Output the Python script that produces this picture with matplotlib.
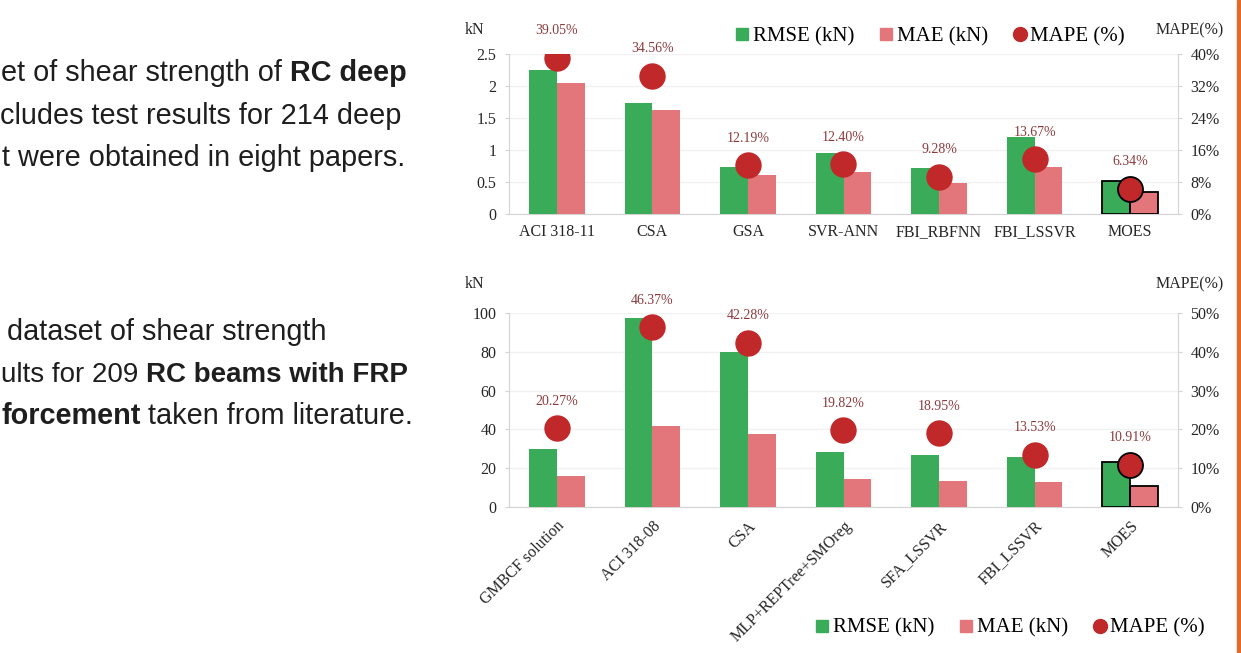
import numpy as np
import matplotlib.pyplot as plt
from matplotlib.lines import Line2D
from matplotlib.patches import Rectangle

W, H = 1241, 653

# top panel: RC deep beams
top_models = ["ACI 318-11", "CSA", "GSA", "SVR-ANN", "FBI_RBFNN", "FBI_LSSVR", "MOES"]
top_rmse = [2.25, 1.74, 0.74, 0.95, 0.72, 1.21, 0.51]
top_mae = [2.04, 1.62, 0.61, 0.66, 0.48, 0.74, 0.34]
top_mape = [39.05, 34.56, 12.19, 12.40, 9.28, 13.67, 6.34]

# bottom panel: RC beams with FRP
bot_models = ["GMBCF solution", "ACI 318-08", "CSA", "MLP+REPTree+SMOreg",
              "SFA_LSSVR", "FBI_LSSVR", "MOES"]
bot_rmse = [30.0, 97.4, 79.7, 28.1, 27.0, 25.6, 23.2]
bot_mae = [16.1, 41.5, 37.6, 14.6, 13.6, 12.7, 10.6]
bot_mape = [20.27, 46.37, 42.28, 19.82, 18.95, 13.53, 10.91]

GREEN = "#3aab58"
PINK = "#e2767a"
RED = "#c0282a"
LABEL_RED = "#8c3a3c"
AXIS_GRAY = "#d4d4d4"
SERIF = "Liberation Serif"
SANS = "Liberation Sans"

plt.rcParams["font.family"] = SERIF


def px_rect(left, top, right, bottom):
    return [left / W, 1 - bottom / H, (right - left) / W, (bottom - top) / H]


def draw_panel(fig, rect, models, rmse, mae, mape, ymax, ystep, pmax, pstep, rotate):
    ax = fig.add_axes(rect)
    ax2 = ax.twinx()
    x = np.arange(len(models))
    w = 0.29
    last = len(models) - 1
    ec = ["none"] * last + ["black"]
    ax.bar(x - w / 2, rmse, w, color=GREEN, edgecolor=ec, linewidth=1.3, zorder=3)
    ax.bar(x + w / 2, mae, w, color=PINK, edgecolor=ec, linewidth=1.3, zorder=3)

    ax.set_xlim(-0.5, len(models) - 0.5)
    ax.set_ylim(0, ymax)
    ax.set_yticks(np.arange(0, ymax + ystep / 2, ystep))
    ax.yaxis.set_major_formatter(lambda v, p: ("%g" % v))
    ax.grid(axis="y", color="#f1f1f1", linewidth=1, zorder=0)
    ax.set_axisbelow(True)

    ax2.set_ylim(0, pmax)
    ax2.set_yticks(np.arange(0, pmax + pstep / 2, pstep))
    ax2.yaxis.set_major_formatter(lambda v, p: "%d%%" % round(v))
    ax2.plot(x[:last], mape[:last], "o", color=RED, markersize=18, zorder=5,
             markeredgecolor=RED)
    ax2.plot(x[last:], mape[last:], "o", color=RED, markersize=18, zorder=5,
             markeredgecolor="black", markeredgewidth=1.3)
    for xi, m in zip(x, mape):
        ax2.annotate("%.2f%%" % m, (xi, m), xytext=(0, 19.5), textcoords="offset points",
                     ha="center", va="center", fontsize=10, color=LABEL_RED, zorder=6)
    ax2.set_zorder(ax.get_zorder() + 1)

    for a in (ax, ax2):
        a.spines["top"].set_visible(False)
        a.spines["left"].set_color(AXIS_GRAY)
        a.spines["right"].set_color(AXIS_GRAY)
        a.spines["bottom"].set_color(AXIS_GRAY)
        a.tick_params(axis="y", length=3, color=AXIS_GRAY, labelsize=11.5,
                      labelcolor="#262626", pad=6)
    ax.spines["right"].set_visible(False)
    ax2.spines["left"].set_visible(False)
    ax2.spines["bottom"].set_visible(False)

    ax.set_xticks(x)
    if rotate:
        ax.set_xticklabels(models, rotation=45, ha="right", rotation_mode="anchor",
                           fontsize=11.5, color="#262626")
        ax.tick_params(axis="x", length=0, pad=8)
    else:
        ax.set_xticklabels(models, fontsize=11.5, color="#262626")
        ax.tick_params(axis="x", length=0, pad=7)
    return ax, ax2


fig = plt.figure(figsize=(W / 100, H / 100), dpi=100)

draw_panel(fig, px_rect(509, 54, 1178, 214), top_models, top_rmse, top_mae, top_mape,
           2.5, 0.5, 40, 8, False)
draw_panel(fig, px_rect(509, 313, 1178, 507), bot_models, bot_rmse, bot_mae, bot_mape,
           100, 20, 50, 10, True)

# axis unit labels
for (xp, yp, s) in [(475, 30, "kN"), (1190, 30, "MAPE(%)"), (475, 284, "kN"), (1190, 284, "MAPE(%)")]:
    fig.text(xp / W, 1 - yp / H, s, ha="center", va="center", fontsize=11.5, color="#262626")

handles = [Line2D([], [], marker="s", ls="none", color=GREEN, markersize=9),
           Line2D([], [], marker="s", ls="none", color=PINK, markersize=9),
           Line2D([], [], marker="o", ls="none", color=RED, markersize=10)]
labels = ["RMSE (kN)", "MAE (kN)", "MAPE (%)"]
for (cx, cy) in [(930, 37), (1010, 628)]:
    fig.legend(handles, labels, loc="center", bbox_to_anchor=(cx / W, 1 - cy / H),
               ncol=3, frameon=False, fontsize=15, handlelength=0.7,
               handletextpad=0.15, columnspacing=1.2, borderaxespad=0)

# slide text on the left
renderer = fig.canvas.get_renderer()


def slide_line(segments, x_start, y_base, size=20.8):
    xl = x_start
    for txt, bold in segments:
        t = fig.text(xl / W, 1 - y_base / H, txt, ha="left", va="baseline",
                     fontsize=size, family=SANS, color="#1e1e1e",
                     fontweight="bold" if bold else "normal")
        xl += t.get_window_extent(renderer=renderer).width


slide_line([("et of shear strength of ", False), ("RC deep", True)], 1, 81)
slide_line([("cludes test results for 214 deep", False)], 0, 124)
slide_line([("t were obtained in eight papers.", False)], 2, 166)
slide_line([("dataset of shear strength", False)], 7, 340)
slide_line([("ults for 209 ", False), ("RC beams with FRP", True)], 1, 382, size=20.0)
slide_line([("forcement", True), (" taken from literature.", False)], 1, 424)

fig.patches.append(Rectangle((1237 / W, 0), 4 / W, 1, transform=fig.transFigure,
                             color="#e0692b", zorder=10))

fig.savefig("out.png", dpi=100)
